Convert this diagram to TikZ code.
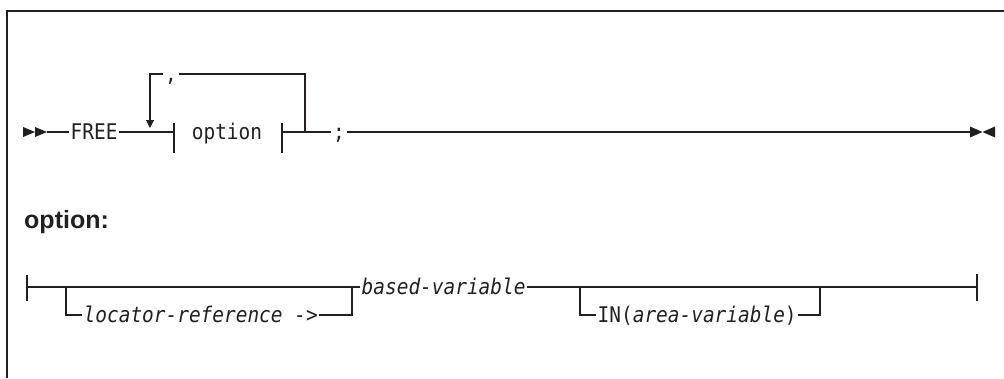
\documentclass[tikz,border=0pt]{standalone}
\usepackage{fontspec}
\setmainfont{Liberation Sans}
\setmonofont[FakeStretch=0.9]{DejaVu Sans Mono}
\usetikzlibrary{arrows.meta}
\definecolor{ink}{HTML}{231F20}

\begin{document}
\begin{tikzpicture}[x=1pt, y=-1pt,
  rail/.style={ink, line width=1.1pt},
  word/.style={font=\fontsize{21.6}{22}\selectfont\ttfamily, text=ink,
    inner sep=1.5pt, text height=17pt, text depth=3pt},
  vari/.style={word, font=\fontsize{21.6}{22}\selectfont\ttfamily\itshape}]

  % === FREE statement — syntax diagram ===
  % one pixel of the page is one point here, y runs downwards

  \def\rowA{132}    % main line of the statement
  \def\loopTop{74}  % repeat loop above it
  \def\rowB{287}    % main line of the option fragment
  \def\branch{315}  % optional items below it

  \useasboundingbox (0,0) rectangle (1004,378);

  % Frame (left and top edge only)
  \draw[ink, line width=2pt] (7,378) -- (7,11) -- (1004,11);

  % === Statement line ===
  % Start marks
  \fill[ink] (23,\rowA-5) -- (35,\rowA) -- (23,\rowA+5) -- cycle;
  \fill[ink] (35,\rowA-5) -- (47,\rowA) -- (35,\rowA+5) -- cycle;
  \coordinate (start) at (47,\rowA);

  \node[word, anchor=west] (free) at (69,\rowA) {FREE};
  \coordinate (optL) at (174,\rowA);
  \node[word] (opt) at (227,\rowA) {option};
  \coordinate (optR) at (282,\rowA);
  \node[word] (semi) at (339,\rowA) {;};
  \coordinate (stop) at (970,\rowA);

  \draw[rail] (start) -- (free);
  \draw[rail] (free) -- (optL);
  \draw[rail] (optR) -- (semi);
  \draw[rail] (semi) -- (stop);

  % Fragment bars round the option reference
  \draw[rail] (optL) ++(0,-9) -- ++(0,30);
  \draw[rail] (optR) ++(0,-9) -- ++(0,30);

  % Repeat loop with separator
  \coordinate (loopR) at (305,\rowA);
  \coordinate (loopTip) at (150,\rowA-4);
  \node[word] (comma) at (171,\loopTop) {,};
  \draw[rail] (loopR) |- (comma);
  \draw[rail, -{Triangle[length=8pt,width=8pt]}] (comma) -| (loopTip);

  % End marks
  \fill[ink] (970,\rowA-5.5) -- (982.5,\rowA) -- (970,\rowA+5.5) -- cycle;
  \fill[ink] (995,\rowA-5.5) -- (982.5,\rowA) -- (995,\rowA+5.5) -- cycle;

  % === Fragment: option ===
  \node[anchor=base west, inner sep=0, text=ink,
    font=\fontsize{25}{30}\selectfont\bfseries] (heading) at (24,228) {option:};

  \coordinate (fragL) at (27,\rowB);
  \coordinate (fragR) at (977,\rowB);
  \draw[rail] (fragL) ++(0,-12) -- ++(0,26);
  \draw[rail] (fragR) ++(0,-13) -- ++(0,27);

  \node[vari, anchor=west] (locator) at (82,\branch) {locator-reference ->};
  \node[vari, anchor=west] (based) at (360,\rowB) {based-variable};
  \node[word, anchor=west] (inarea) at (596,\branch) {IN(\textit{area-variable})};

  \coordinate (brA) at (66,\rowB);
  \coordinate (brB) at (352,\rowB);
  \coordinate (brC) at (580,\rowB);
  \coordinate (brD) at (820,\rowB);

  \draw[rail] (fragL) -- (based);
  \draw[rail] (brA) |- (locator);
  \draw[rail] (locator) -| (brB);
  \draw[rail] (based) -- (fragR);
  \draw[rail] (brC) |- (inarea);
  \draw[rail] (inarea) -| (brD);

\end{tikzpicture}
\end{document}
